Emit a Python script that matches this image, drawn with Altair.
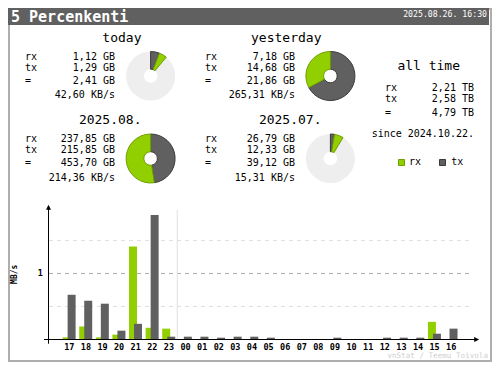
import math
import altair as alt
import pandas as pd

# ---------------- data ----------------
TITLE = "5 Percenkenti"
DATE = "2025.08.26. 16:30"

periods = ["today", "yesterday", "2025.08.", "2025.07."]
rx_labels = ["1,12 GB", "7,18 GB", "237,85 GB", "26,79 GB"]
tx_labels = ["1,29 GB", "14,68 GB", "215,85 GB", "12,33 GB"]
total_labels = ["2,41 GB", "21,86 GB", "453,70 GB", "39,12 GB"]
rate_labels = ["42,60 KB/s", "265,31 KB/s", "214,36 KB/s", "15,31 KB/s"]
rx_gb = [1.12, 7.18, 237.85, 26.79]
tx_gb = [1.29, 14.68, 215.85, 12.33]

alltime_title = "all time"
alltime_rx = "2,21 TB"
alltime_tx = "2,58 TB"
alltime_total = "4,79 TB"
since_label = "since 2024.10.22."

hours = ["17", "18", "19", "20", "21", "22", "23", "00", "01", "02", "03", "04",
         "05", "06", "07", "08", "09", "10", "11", "12", "13", "14", "15", "16"]
rx_rate = [0.025, 0.19, 0.025, 0.066, 1.40, 0.17, 0.157, 0, 0, 0, 0, 0,
           0, 0, 0, 0, 0, 0, 0, 0, 0, 0, 0.26, 0]
tx_rate = [0.67, 0.58, 0.535, 0.126, 0.23, 1.88, 0.035, 0.035, 0.035, 0.02, 0.035, 0.035,
           0.02, 0, 0, 0, 0.02, 0, 0, 0.02, 0.02, 0.02, 0.08, 0.157]
unit_label = "MB/s"
ytick_vals = [1.0]
ytick_labels = ["1"]
grid_major = [1.0]
grid_minor = [0.5, 1.5]
legend_labels = ["rx", "tx"]
FOOTER = "vnStat / Teemu Toivola"

# ---------------- style ----------------
FONT = "DejaVu Sans Mono"
GREEN, GREEN_D = "#92cf00", "#6f9e00"
DARK, DARK_D = "#606060", "#3a3a3a"
HEADER = "#606060"
FRAME = "#aeaeae"
PIE_BG = "#eeeeee"

OX, OY = 48, 207           # reference pixel -> view pixel offset
W, H = 430, 132

one = pd.DataFrame({"k": [0]})


def T(text, x, y, size=10, align="left", weight="normal", color="#000000",
      baseline="middle", angle=0):
    return alt.Chart(one).mark_text(
        text=text, align=align, baseline=baseline, font=FONT, fontSize=size,
        fontWeight=weight, color=color, angle=angle
    ).encode(x=alt.value(x - OX), y=alt.value(y - OY))


def R(x1, y1, x2, y2, fill=None, stroke=None, sw=1):
    kw = {}
    if fill is not None:
        kw["fill"] = fill
    else:
        kw["fillOpacity"] = 0
    if stroke is not None:
        kw["stroke"] = stroke
        kw["strokeWidth"] = sw
    return alt.Chart(one).mark_rect(**kw).encode(
        x=alt.value(x1 - OX), x2=alt.value(x2 - OX),
        y=alt.value(y1 - OY), y2=alt.value(y2 - OY))


layers = []

# frame and header
layers.append(R(9, 9, 491, 361, stroke=FRAME, sw=2))
layers.append(R(8, 8, 489, 25, fill=HEADER))
layers.append(T(TITLE, 11, 16.5, size=15, weight="bold", color="#ffffff"))
layers.append(T(DATE, 487, 15, size=8.2, align="right", color="#ffffff"))

# period blocks
col_dx = [0, 180, 0, 180]
row_dy = [0, 0, 82.5, 82.5]
for i in range(4):
    dx, dy = col_dx[i], row_dy[i]
    layers.append(T(periods[i], 141.5 + dx, 37.7 + dy, size=13, align="right"))
    layers.append(T("rx", 25 + dx, 56.5 + dy))
    layers.append(T(rx_labels[i], 115 + dx, 56.5 + dy, align="right"))
    layers.append(T("tx", 25 + dx, 67.5 + dy))
    layers.append(T(tx_labels[i], 115 + dx, 67.5 + dy, align="right"))
    layers.append(T(" =", 25 + dx, 80.5 + dy))
    layers.append(T(total_labels[i], 115 + dx, 80.5 + dy, align="right"))
    layers.append(T(rate_labels[i], 115 + dx, 95 + dy, align="right"))

# pies
totals = [r + t for r, t in zip(rx_gb, tx_gb)]
pie_ref = [max(totals[0], totals[1]), max(totals[0], totals[1]),
           max(totals[2], totals[3]), max(totals[2], totals[3])]
pie_rows = []
for i in range(4):
    f_tx = tx_gb[i] / pie_ref[i]
    f_all = (tx_gb[i] + rx_gb[i]) / pie_ref[i]
    pie_rows.append({"period": periods[i], "dir": "tx", "t0": 0.0, "t1": f_tx})
    pie_rows.append({"period": periods[i], "dir": "rx", "t0": f_tx, "t1": f_all})
pie_df = pd.DataFrame(pie_rows)

pie_centers = [(150.6, 76), (330.4, 76), (150.6, 158.5), (330.4, 158.5)]
R_OUT, R_IN = 24.5, 6.8
for i, (cx, cy) in enumerate(pie_centers):
    if totals[i] < pie_ref[i] - 1e-9:
        layers.append(alt.Chart(one).mark_arc(
            theta=0, theta2=2 * math.pi, radius=R_OUT, innerRadius=R_IN, color=PIE_BG
        ).encode(x=alt.value(cx - OX), y=alt.value(cy - OY)))
    layers.append(alt.Chart(pie_df[pie_df["period"] == periods[i]]).mark_arc(
        radius=R_OUT, innerRadius=R_IN, strokeWidth=1
    ).encode(
        x=alt.value(cx - OX), y=alt.value(cy - OY),
        theta=alt.Theta("t0:Q", stack=False,
                        scale=alt.Scale(domain=[0, 1], range=[0, 2 * math.pi])),
        theta2=alt.Theta2("t1:Q"),
        color=alt.Color("dir:N", scale=alt.Scale(domain=["rx", "tx"], range=[GREEN, DARK]), legend=None),
        stroke=alt.Stroke("dir:N", scale=alt.Scale(domain=["rx", "tx"], range=[GREEN_D, DARK_D]), legend=None),
    ))

# all time block
layers.append(T(alltime_title, 428.7, 65.7, size=13, align="center"))
layers.append(T("rx", 385, 87.7))
layers.append(T(alltime_rx, 474, 87.7, align="right"))
layers.append(T("tx", 385, 99))
layers.append(T(alltime_tx, 474, 99, align="right"))
layers.append(T(" =", 385, 113.3))
layers.append(T(alltime_total, 474, 113.3, align="right"))
layers.append(T(since_label, 474, 134.3, align="right"))

# legend
layers.append(R(398.5, 159.5, 404.5, 165.5, fill=GREEN, stroke=GREEN_D))
layers.append(T(legend_labels[0], 409, 162.3))
layers.append(R(439.5, 159.5, 445.5, 165.5, fill=DARK, stroke=DARK_D))
layers.append(T(legend_labels[1], 451.3, 162.3))

# ---------------- hourly bar chart ----------------
bars = pd.DataFrame({"idx": list(range(len(hours))), "hour": hours,
                     "rx": rx_rate, "tx": tx_rate})
x0 = -16.7 / 17
xscale = alt.Scale(domain=[x0, x0 + W / 17], nice=False, zero=False)
yscale = alt.Scale(domain=[0, 2], nice=False)

gmin = pd.DataFrame({"g": grid_minor})
gmaj = pd.DataFrame({"g": grid_major})
layers.append(alt.Chart(gmin).mark_rule(color="#e0e0e0", strokeDash=[4, 4], yOffset=0.5).encode(
    x=alt.value(1), x2=alt.value(425), y=alt.Y("g:Q", scale=yscale, axis=None)))
layers.append(alt.Chart(gmaj).mark_rule(color="#b0b0b0", strokeDash=[4, 4], yOffset=0.5).encode(
    x=alt.value(1), x2=alt.value(425), y=alt.Y("g:Q", scale=yscale, axis=None)))

# day separator
layers.append(alt.Chart(one).mark_rule(color="#e0e0e0").encode(
    x=alt.X("sep:Q", scale=xscale, axis=None), y=alt.value(3), y2=alt.value(H)
).transform_calculate(sep="6.5"))

layers.append(alt.Chart(bars).mark_bar(size=8, xOffset=-2.7, orient="vertical", color=GREEN).encode(
    x=alt.X("idx:Q", scale=xscale, axis=None),
    y=alt.Y("rx:Q", scale=yscale, axis=None)))
layers.append(alt.Chart(bars).mark_bar(size=8, xOffset=2.3, orient="vertical", color=DARK).encode(
    x=alt.X("idx:Q", scale=xscale, axis=None),
    y=alt.Y("tx:Q", scale=yscale, axis=None)))

# axes
layers.append(alt.Chart(one).mark_rule(color="#000000").encode(
    x=alt.value(0.5), y=alt.value(2), y2=alt.value(136.7)))
layers.append(alt.Chart(one).mark_rule(color="#000000").encode(
    x=alt.value(-4), x2=alt.value(427), y=alt.value(H + 0.5)))
layers.append(alt.Chart(one).mark_point(
    shape="M0,-1L1,1L-1,1Z", size=25, filled=True, color="#000000", opacity=1
).encode(x=alt.value(0.5), y=alt.value(0.2)))
layers.append(alt.Chart(one).mark_point(
    shape="M1,0L-1,1L-1,-1Z", size=25, filled=True, color="#000000", opacity=1
).encode(x=alt.value(428.7), y=alt.value(H + 0.5)))

# tick labels
layers.append(alt.Chart(bars).mark_text(
    font=FONT, fontSize=8.5, fontWeight="bold", baseline="middle", align="center", color="#000000"
).encode(x=alt.X("idx:Q", scale=xscale, axis=None), y=alt.value(139.7), text="hour:N"))
yt = pd.DataFrame({"v": ytick_vals, "lab": ytick_labels})
layers.append(alt.Chart(yt).mark_text(
    font=FONT, fontSize=8.5, fontWeight="bold", baseline="middle", align="center", color="#000000"
).encode(x=alt.value(-7.7), y=alt.Y("v:Q", scale=yscale, axis=None), text="lab:N"))
layers.append(T(unit_label, 15, 274.3, size=8, weight="bold", align="center", angle=270))

# footer
layers.append(T(FOOTER, 488, 355.5, size=7.6, align="right", color="#d0d0d0"))

chart = alt.layer(*layers).properties(
    width=W, height=H,
    padding={"left": 40, "top": 199, "right": 14, "bottom": 23},
    autosize=alt.AutoSizeParams(type="none"),
    background="#ffffff",
).configure_view(strokeWidth=0)

chart.save("out.html", embed_options={"renderer": "svg", "actions": False})
